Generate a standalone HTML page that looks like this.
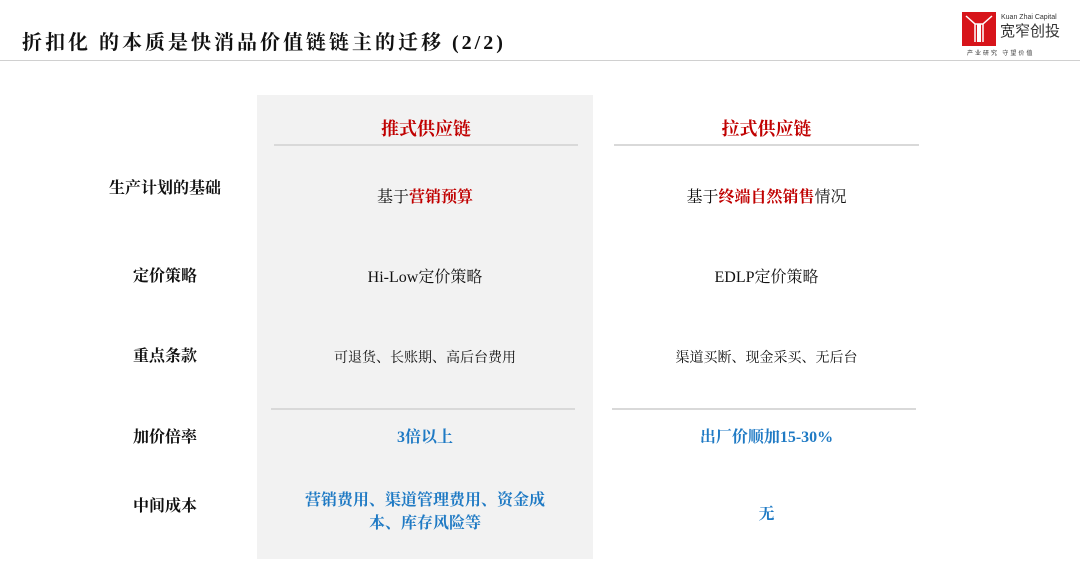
<!DOCTYPE html>
<html><head><meta charset="utf-8"><style>
body{margin:0;width:1080px;height:577px;background:#fff;position:relative;overflow:hidden;font-family:"Liberation Serif","Noto Serif CJK SC",serif;}
.a{position:absolute;white-space:nowrap}
.c{position:absolute;text-align:center;white-space:nowrap}
.r{color:#c00000}
.b{color:#1f7ac4}
.line{position:absolute;height:2px;background:#d9d9d9}
.lab{position:absolute;left:90px;width:150px;text-align:center;font-size:16px;font-weight:bold;color:#111}
</style></head><body>
<div class="a" style="left:22px;top:26px;font-size:20px;font-weight:bold;color:#111;letter-spacing:3px">折扣化 的本质是快消品价值链链主的迁移 (2/2)</div>
<div class="line" style="left:0;top:60px;width:1080px;height:1px;background:#d0d0d0"></div>
<svg class="a" style="left:962px;top:12px" width="34" height="34" viewBox="0 0 34 34"><rect width="34" height="34" fill="#d7141a"/><path d="M4 4 L13 12 L13 30 M30 4 L21 12 L21 30 M13 12 H21" stroke="#fff" stroke-width="1.5" fill="none"/><rect x="15" y="12" width="4" height="18" fill="#fff"/></svg>
<div class="a" style="left:1001px;top:14px;font-size:7px;color:#333;font-family:'Liberation Sans',sans-serif">Kuan Zhai Capital</div>
<div class="a" style="left:1000px;top:23px;font-size:15px;color:#333;font-family:'Noto Sans CJK SC',sans-serif;line-height:16px">宽窄创投</div>
<div class="a" style="left:967px;top:48px;font-size:6px;color:#333;font-family:'Noto Sans CJK SC',sans-serif;letter-spacing:2px">产业研究  守望价值</div>

<div class="a" style="left:257px;top:95px;width:336px;height:464px;background:#f2f2f2"></div>
<div class="c r" style="left:274px;width:304px;top:115px;font-size:18px;font-weight:bold">推式供应链</div>
<div class="c r" style="left:614px;width:305px;top:115px;font-size:18px;font-weight:bold">拉式供应链</div>
<div class="line" style="left:274px;top:144px;width:304px"></div>
<div class="line" style="left:614px;top:144px;width:305px"></div>
<div class="line" style="left:271px;top:408px;width:304px"></div>
<div class="line" style="left:612px;top:408px;width:304px"></div>

<div class="lab" style="top:175px">生产计划的基础</div>
<div class="lab" style="top:263px">定价策略</div>
<div class="lab" style="top:343px">重点条款</div>
<div class="lab" style="top:424px">加价倍率</div>
<div class="lab" style="top:493px">中间成本</div>

<div class="c" style="left:257px;width:336px;top:184px;font-size:16px;color:#111">基于<b class="r">营销预算</b></div>
<div class="c" style="left:614px;width:305px;top:184px;font-size:16px;color:#111">基于<b class="r">终端自然销售</b>情况</div>
<div class="c" style="left:257px;width:336px;top:264px;font-size:16px;color:#111">Hi-Low定价策略</div>
<div class="c" style="left:614px;width:305px;top:264px;font-size:16px;color:#111">EDLP定价策略</div>
<div class="c" style="left:257px;width:336px;top:347px;font-size:14px;color:#111">可退货、长账期、高后台费用</div>
<div class="c" style="left:614px;width:305px;top:347px;font-size:14px;color:#111">渠道买断、现金采买、无后台</div>
<div class="c b" style="left:257px;width:336px;top:424px;font-size:16px;font-weight:bold">3倍以上</div>
<div class="c b" style="left:614px;width:305px;top:424px;font-size:16px;font-weight:bold">出厂价顺加15-30%</div>
<div class="c b" style="left:257px;width:336px;top:489px;font-size:16px;font-weight:bold;line-height:23px;white-space:normal">营销费用、渠道管理费用、资金成<br>本、库存风险等</div>
<div class="c b" style="left:614px;width:305px;top:501px;font-size:16px;font-weight:bold">无</div>
</body></html>
